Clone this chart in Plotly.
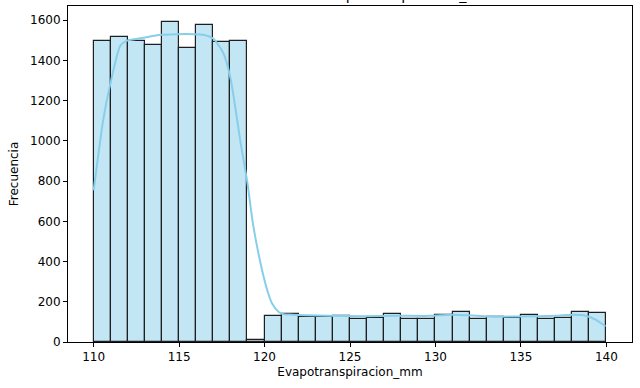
import plotly.graph_objects as go

# Histogram: bin left edges (width 1) and counts
bin_left = list(range(110, 140))
counts = [1499, 1519, 1499, 1476, 1590, 1460, 1576, 1494, 1499, 10,
          128, 141, 122, 124, 131, 116, 121, 138, 116, 112,
          134, 147, 116, 122, 120, 134, 112, 117, 147, 142]

# KDE curve (scaled to counts)
kde_x = [110.0, 110.57, 110.98, 111.56, 111.96, 112.91, 113.9, 114.88, 115.84, 116.42,
         117.01, 117.6, 118.0, 118.3, 118.6, 119.0, 119.3, 119.57, 119.86, 120.15,
         120.44, 120.83, 121.12, 121.62, 122.4, 123.76, 125.71, 127.66, 129.61, 130.98,
         131.96, 133.52, 135.47, 137.03, 138.0, 138.79, 139.37, 139.95]
kde_y = [754, 1110, 1285, 1474, 1499, 1513, 1528, 1531, 1531, 1528,
         1508, 1435, 1315, 1160, 990, 790, 600, 472, 356, 260,
         191, 149, 138, 136, 133, 130, 128, 131, 130, 136,
         133, 126, 128, 130, 136, 131, 111, 78]

x_ticks = [110, 115, 120, 125, 130, 135, 140]
y_ticks = [0, 200, 400, 600, 800, 1000, 1200, 1400, 1600]

title_text = "Distribución de Evapotranspiracion_mm"
x_label = "Evapotranspiracion_mm"
y_label = "Frecuencia"

fig = go.Figure()
fig.add_trace(go.Bar(
    x=[b + 0.5 for b in bin_left], y=counts, width=1.0,
    marker=dict(color="rgba(135,206,235,0.5)", line=dict(color="#1f1f1f", width=1.2)),
    hoverinfo="x+y", showlegend=False,
))
fig.add_trace(go.Scatter(
    x=kde_x, y=kde_y, mode="lines", line=dict(color="#87CEEB", width=2, shape="spline", smoothing=0.6),
    showlegend=False,
))

font = "DejaVu Sans, sans-serif"
fig.update_layout(
    width=640, height=388,
    margin=dict(l=68, r=8, t=6, b=46, autoexpand=False),
    plot_bgcolor="white", paper_bgcolor="white",
    bargap=0,
    font=dict(family=font, size=12, color="black"),
    annotations=[dict(text=title_text, xref="paper", yref="paper", x=0.5, y=1,
                      xanchor="center", yanchor="bottom", yshift=1, showarrow=False,
                      font=dict(family=font, size=14.5, color="black"))],
)
fig.update_xaxes(
    range=[108.5, 141.5], tickvals=x_ticks, ticks="outside", ticklen=4, tickwidth=1,
    tickcolor="black", showline=True, linecolor="black", linewidth=1, mirror=True,
    showgrid=False, zeroline=False, tickfont=dict(size=12), automargin=False,
    title=dict(text=x_label, font=dict(size=12), standoff=4),
)
fig.update_yaxes(
    range=[0, 1671], tickvals=y_ticks, ticks="outside", ticklen=4, tickwidth=1,
    tickcolor="black", showline=True, linecolor="black", linewidth=1, mirror=True,
    showgrid=False, zeroline=False, tickfont=dict(size=12), automargin=False,
    title=dict(text=y_label, font=dict(size=12), standoff=8),
)
fig.write_html("out.html", config={"displayModeBar": False},
               post_script="document.body.style.margin='0';document.body.style.overflow='hidden';")
